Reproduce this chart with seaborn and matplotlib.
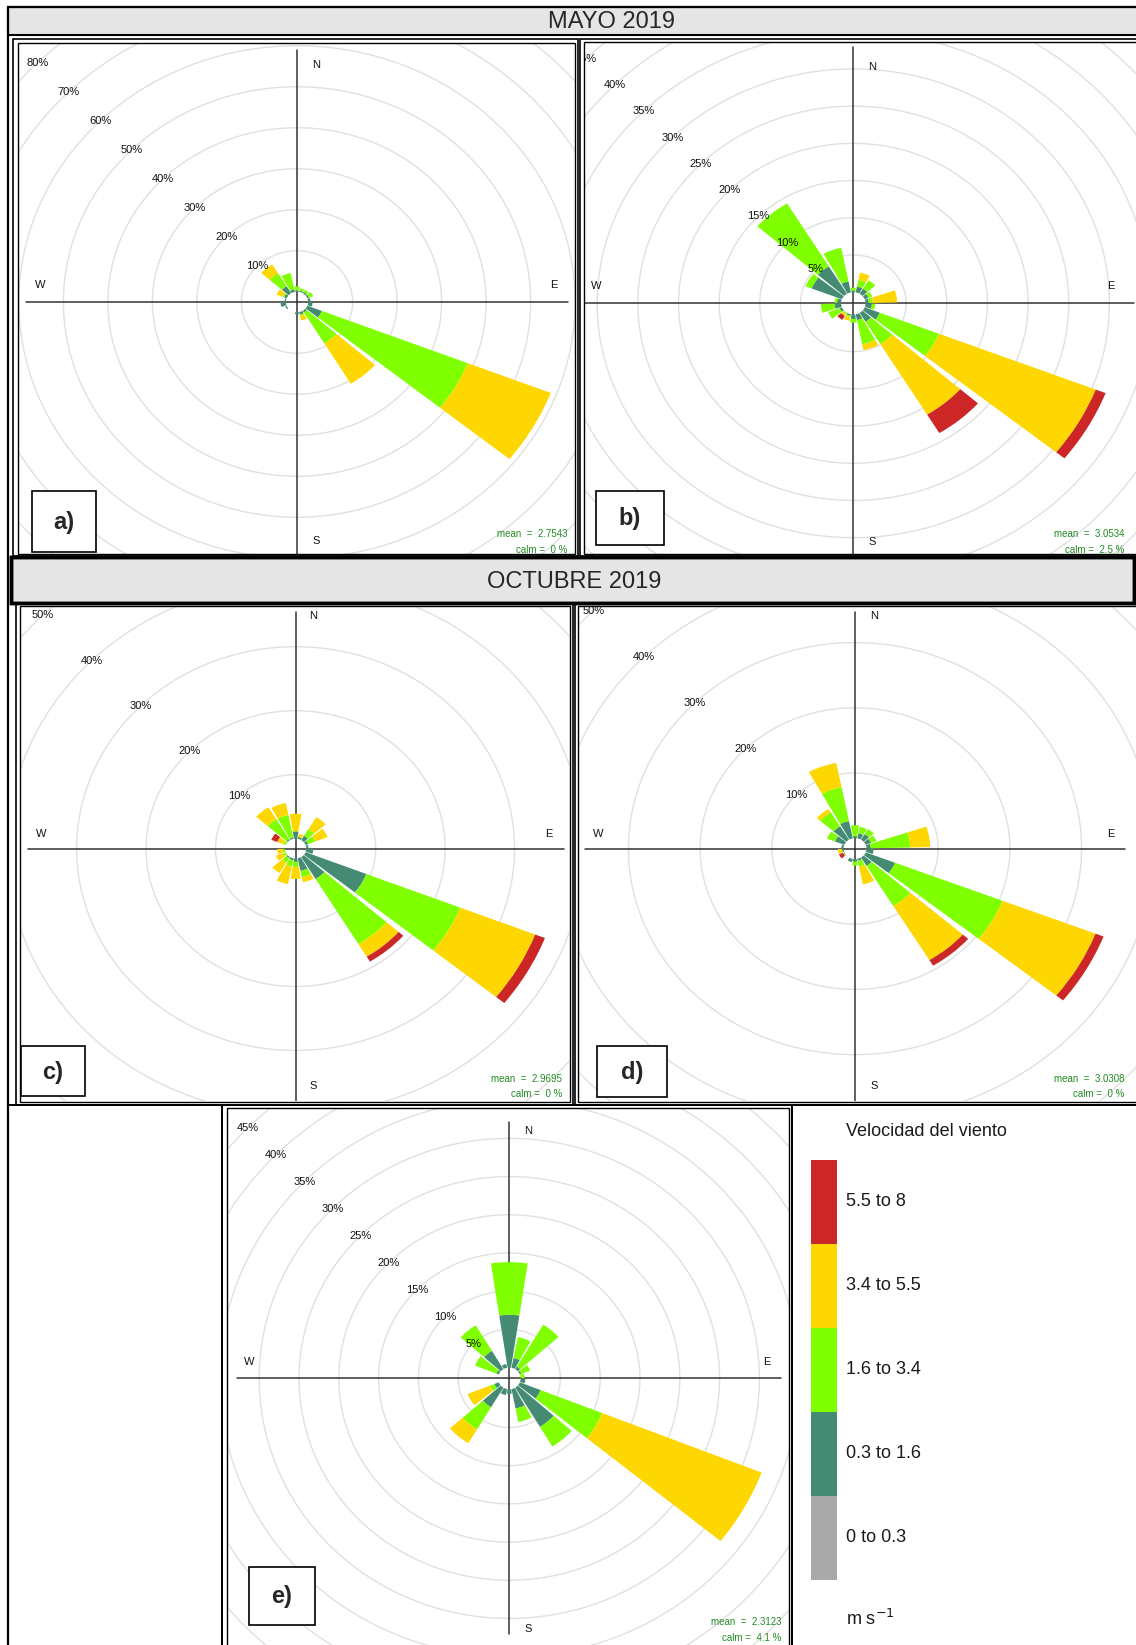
import numpy as np
import matplotlib
matplotlib.use("Agg")
import matplotlib.pyplot as plt
import seaborn as sns
from matplotlib.patches import Rectangle

sns.set_theme(style="white")
plt.rcParams['font.family'] = ['Liberation Sans', 'DejaVu Sans']

W, H = 1136, 1645

# ---------------- data ----------------
directions = [0, 20, 40, 60, 80, 100, 120, 140, 160, 180, 200, 220, 240, 260, 280, 300, 320, 340]
legend_labels = ["5.5 to 8", "3.4 to 5.5", "1.6 to 3.4", "0.3 to 1.6", "0 to 0.3"]
legend_title = "Velocidad del viento"
speed_colors = ["#458B74", "#7FFF00", "#FFD700", "#CD2626"]   # 0.3-1.6, 1.6-3.4, 3.4-5.5, 5.5-8
calm_color = "#A9A9A9"

# a) MAYO 2019 - station 1  (% frequency per direction, per speed class)
a_s1 = [0.3, 0.3, 0.4, 0.4, 0.5, 1.0, 3.5, 0.5, 0.6, 0.5, 0.0, 0.0, 0.3, 1.2, 0.3, 0.6, 2.0, 0.7]
a_s2 = [1.0, 0.6, 0.6, 1.0, 0.0, 0.0, 35.2, 8.8, 0.3, 0.0, 0.0, 0.0, 0.0, 0.0, 0.0, 0.4, 3.7, 4.0]
a_s3 = [0.0, 0.0, 0.0, 0.0, 0.0, 0.0, 20.0, 11.5, 1.2, 0.0, 0.0, 0.0, 0.0, 0.0, 0.0, 1.4, 2.5, 0.0]
a_s4 = [0.0] * 18
a_rings = [10, 20, 30, 40, 50, 60, 70, 80]
a_mean, a_calm = "2.7543", "0"

# b) MAYO 2019 - station 2
b_s1 = [0.2, 0.8, 0.8, 0.5, 0.4, 0.8, 2.0, 1.4, 0.8, 0.6, 0.2, 0.0, 0.3, 0.8, 0.5, 4.0, 4.3, 1.5]
b_s2 = [0.4, 0.9, 1.3, 0.5, 0.5, 0.4, 7.8, 3.5, 3.3, 0.5, 0.2, 0.2, 1.5, 1.7, 0.3, 0.8, 9.9, 4.6]
b_s3 = [0.0, 1.0, 0.0, 0.0, 3.0, 0.0, 20.7, 11.1, 0.8, 0.0, 0.5, 0.3, 0.0, 0.0, 0.0, 0.0, 0.0, 0.0]
b_s4 = [0.0, 0.0, 0.0, 0.0, 0.0, 0.0, 1.3, 2.9, 0.0, 0.0, 0.0, 0.6, 0.0, 0.0, 0.0, 0.0, 0.0, 0.0]
b_rings = [5, 10, 15, 20, 25, 30, 35, 40, 45]
b_mean, b_calm = "3.0534", "2.5"

# c) OCTUBRE 2019 - station 1
c_s1 = [1.1, 0.3, 0.8, 0.4, 0.3, 1.0, 9.4, 4.0, 2.0, 0.5, 0.3, 0.2, 0.0, 0.0, 0.0, 0.0, 0.2, 0.2]
c_s2 = [0.1, 0.0, 1.2, 1.1, 0.0, 0.0, 14.5, 11.9, 1.0, 0.8, 1.0, 0.8, 0.3, 0.3, 0.0, 0.3, 3.6, 3.6]
c_s3 = [2.7, 0.5, 2.2, 1.9, 0.0, 0.0, 11.6, 2.3, 0.8, 1.9, 2.8, 1.9, 1.2, 0.8, 0.0, 1.0, 2.2, 1.9]
c_s4 = [0.0, 0.0, 0.0, 0.0, 0.0, 0.0, 1.5, 0.9, 0.0, 0.0, 0.0, 0.0, 0.0, 0.0, 0.0, 0.9, 0.0, 0.0]
c_rings = [10, 20, 30, 40, 50]
c_mean, c_calm = "2.9695", "0"

# d) OCTUBRE 2019 - station 2
d_s1 = [0.3, 0.8, 1.0, 0.8, 0.6, 1.0, 4.4, 1.5, 0.3, 0.4, 0.5, 0.0, 0.1, 0.2, 0.3, 1.4, 2.4, 2.7]
d_s2 = [1.7, 1.0, 0.9, 0.8, 5.5, 0.0, 16.1, 7.2, 0.9, 0.6, 0.0, 0.0, 0.0, 0.1, 0.0, 1.2, 2.5, 5.3]
d_s3 = [0.0, 0.0, 0.0, 0.0, 2.8, 0.0, 13.9, 9.7, 2.8, 0.0, 0.0, 0.0, 0.1, 0.5, 0.0, 0.0, 0.6, 3.8]
d_s4 = [0.0, 0.0, 0.0, 0.0, 0.0, 0.0, 1.2, 1.0, 0.0, 0.0, 0.0, 0.0, 0.6, 0.0, 0.0, 0.0, 0.0, 0.0]
d_rings = [10, 20, 30, 40, 50]
d_mean, d_calm = "3.0308", "0"

# e) station 3
e_s1 = [6.9, 1.3, 0.4, 0.2, 0.0, 0.6, 2.8, 6.0, 2.6, 0.6, 0.8, 3.0, 0.6, 0.0, 0.0, 0.3, 2.8, 0.5]
e_s2 = [6.9, 2.8, 6.4, 1.2, 0.5, 0.0, 8.3, 3.0, 1.8, 0.0, 0.0, 3.4, 0.6, 0.0, 0.0, 2.9, 3.9, 0.0]
e_s3 = [0.0, 0.0, 0.0, 0.0, 0.0, 0.0, 21.5, 0.0, 0.0, 0.0, 0.0, 2.1, 3.0, 0.0, 0.0, 0.0, 0.0, 0.0]
e_s4 = [0.0] * 18
e_rings = [5, 10, 15, 20, 25, 30, 35, 40, 45]
e_mean, e_calm = "2.3123", "4.1"

# ---------------- figure ----------------
fig = plt.figure(figsize=(W / 100, H / 100), dpi=100)
fig.patch.set_facecolor("white")


def fx(x):
    return x / W


def fy(y):
    return 1 - y / H


def rect(x0, y0, x1, y1, lw=1.2, fc="none", ec="black", z=5):
    r = Rectangle((fx(x0), fy(y1)), (x1 - x0) / W, (y1 - y0) / H, transform=fig.transFigure,
                  facecolor=fc, edgecolor=ec, lw=lw, zorder=z)
    fig.add_artist(r)
    return r


def draw_rose(cx, cy, sx, sy, off, clip, series, rings, lines, nsew, mean, calm, stat_xy, tag, tag_box):
    rmax = 100.0
    Rx, Ry = rmax * sx, rmax * sy
    ax = fig.add_axes([fx(cx - Rx), fy(cy + Ry), 2 * Rx / W, 2 * Ry / H], projection="polar")
    ax.set_aspect("auto")
    ax.set_theta_zero_location("N")
    ax.set_theta_direction(-1)
    ax.set_axis_off()
    ax.patch.set_visible(False)
    clip_rect = Rectangle((fx(clip[0]), fy(clip[3])), (clip[2] - clip[0]) / W, (clip[3] - clip[1]) / H,
                          transform=fig.transFigure)

    # grid circles and their labels
    t = np.linspace(0, 2 * np.pi, 721)
    for rv in rings:
        ln, = ax.plot(t, np.full_like(t, rv + off), color="#e0e0e0", lw=1.0, zorder=0.5)
        ln.set_clip_path(clip_rect)
        tx = ax.text(np.deg2rad(315), rv + off, f"{rv}%", ha="center", va="center",
                     fontsize=8, color="#111111", clip_on=True, zorder=4)
        tx.set_clip_path(clip_rect)

    # N-S / E-W axis lines
    up, down, left, right = lines
    for th, L in [(0, up / sy), (np.pi, down / sy), (np.pi / 2, right / sx), (3 * np.pi / 2, left / sx)]:
        ln, = ax.plot([th, th], [0, L], color="#333333", lw=1.1, zorder=0.8)
        ln.set_clip_path(clip_rect)

    # stacked wedges
    theta = np.deg2rad(directions)
    bottom = np.full(len(directions), off)
    for vals, col in zip(series, speed_colors):
        vals = np.asarray(vals, dtype=float)
        bars = ax.bar(theta, vals, width=np.deg2rad(17.5), bottom=bottom, color=col,
                      edgecolor="none", linewidth=0, align="center", zorder=2)
        for b in bars:
            b.set_clip_path(clip_rect)
        bottom = bottom + vals

    ax.set_ylim(0, rmax)

    for lbl, (dx, dy) in zip(["N", "S", "W", "E"], nsew):
        ax.annotate(lbl, xy=(0, 0), xytext=(dx, dy), textcoords="offset pixels",
                    ha="center", va="center", fontsize=8, color="#111111", zorder=4)

    # mean / calm
    fig.text(fx(stat_xy[0]), fy(stat_xy[1]), f"mean  =  {mean}", ha="right", va="center",
             fontsize=7, color="forestgreen", zorder=6)
    fig.text(fx(stat_xy[0]), fy(stat_xy[1] + 15.6), f"calm =  {calm} %", ha="right", va="center",
             fontsize=7, color="forestgreen", zorder=6)

    # panel tag box
    x0, y0, x1, y1 = tag_box
    rect(x0, y0, x1, y1, lw=1.2, fc="white", z=8)
    fig.text(fx((x0 + x1) / 2), fy((y0 + y1) / 2 + 1), tag, ha="center", va="center",
             fontsize=17, fontweight="bold", zorder=9)
    return ax


# ---------------- table frames ----------------
rect(8.4, 7.3, 1140, 1650, lw=1.6, z=5)
rect(8.4, 7.3, 1140, 35, lw=1.5, fc="#e5e5e5", z=1)
fig.text(fx(612), fy(22.5), "MAYO 2019", ha="center", va="center", fontsize=17, zorder=6)

rect(12.6, 38.8, 578, 556, lw=1.2)
rect(17.8, 43, 575, 554, lw=1.0)
rect(580, 38.8, 1140, 556, lw=1.2)
rect(583.5, 42, 1140, 554, lw=1.0)

rect(10.5, 557, 1134, 603, lw=2.5, fc="#e5e5e5", z=1)
rect(10.5, 557, 1134, 603, lw=2.5, z=6)
fig.text(fx(574), fy(582), "OCTUBRE 2019", ha="center", va="center", fontsize=17, zorder=6)

rect(15.7, 603, 572.8, 1104.6, lw=1.2)
rect(20, 606, 569.6, 1101.5, lw=1.0)
rect(574.9, 603, 1140, 1104.6, lw=1.2)
rect(578, 606, 1140, 1101.5, lw=1.0)

rect(8.4, 1104.6, 222.4, 1650, lw=1.4)
rect(222.4, 1104.6, 792, 1650, lw=1.4)
rect(226.6, 1107.7, 788.8, 1650, lw=1.0)
rect(792, 1104.6, 1140, 1650, lw=1.4)

# ---------------- wind roses ----------------
draw_rose(297, 302, 4.45, 4.10, 2.5, (18.5, 43.5, 574.5, 553.5),
          [a_s1, a_s2, a_s3, a_s4], a_rings, (252, 252, 271, 271),
          [(19, 237), (19, -239), (-257, 17), (257, 17)], a_mean, a_calm, (567.6, 534),
          "a)", (31.5, 491, 95.5, 552))
draw_rose(853.3, 303.3, 8.13, 7.44, 1.5, (583.5, 42, 1136, 554.5),
          [b_s1, b_s2, b_s3, b_s4], b_rings, (256, 256, 271, 281),
          [(18.7, 236), (18.7, -239), (-257, 17), (258, 17)], b_mean, b_calm, (1124.6, 534),
          "b)", (596, 491, 664, 545))
draw_rose(295.6, 848.6, 6.94, 6.40, 1.55, (20.5, 606.5, 569, 1101),
          [c_s1, c_s2, c_s3, c_s4], c_rings, (237, 255, 268, 268),
          [(18, 233), (18, -237), (-254.6, 14.6), (253, 14.6)], c_mean, c_calm, (562, 1078.6),
          "c)", (21, 1046, 85, 1096))
draw_rose(855, 848.6, 7.17, 6.52, 1.6, (578.5, 606.5, 1136, 1101),
          [d_s1, d_s2, d_s3, d_s4], d_rings, (237, 255, 270, 270),
          [(19, 233), (19, -237), (-257, 14.6), (256, 14.6)], d_mean, d_calm, (1124.6, 1078.6),
          "d)", (597, 1046, 667, 1097))
draw_rose(509.3, 1378.4, 7.96, 7.64, 1.42, (227, 1108, 788.5, 1645),
          [e_s1, e_s2, e_s3, e_s4], e_rings, (256, 256, 272, 272),
          [(18.4, 247.6), (18.4, -251), (-259.6, 16.8), (258, 16.8)], e_mean, e_calm, (781.5, 1622),
          "e)", (248.6, 1567, 314.7, 1625))

# ---------------- legend ----------------
leg_colors = sns.color_palette([speed_colors[3], speed_colors[2], speed_colors[1], speed_colors[0], calm_color])
bx0, bx1, by0, by1 = 811, 837, 1160, 1580
lax = fig.add_axes([fx(bx0), fy(by1), (bx1 - bx0) / W, (by1 - by0) / H])
n = len(legend_labels)
lax.bar([0] * n, [1] * n, bottom=np.arange(n)[::-1], width=1.0, color=leg_colors, edgecolor="none")
lax.set_xlim(-0.5, 0.5)
lax.set_ylim(0, n)
lax.set_axis_off()
seg = (by1 - by0) / n
for i, lbl in enumerate(legend_labels):
    fig.text(fx(846), fy(by0 + seg * (i + 0.5)), lbl, ha="left", va="center", fontsize=13, color="#1a1a1a")
fig.text(fx(846), fy(1131), legend_title, ha="left", va="center", fontsize=13, color="#1a1a1a")
fig.text(fx(846), fy(1619), r"m s$^{-1}$", ha="left", va="center", fontsize=13, color="#1a1a1a")

fig.savefig("out.png", dpi=100, facecolor="white")
